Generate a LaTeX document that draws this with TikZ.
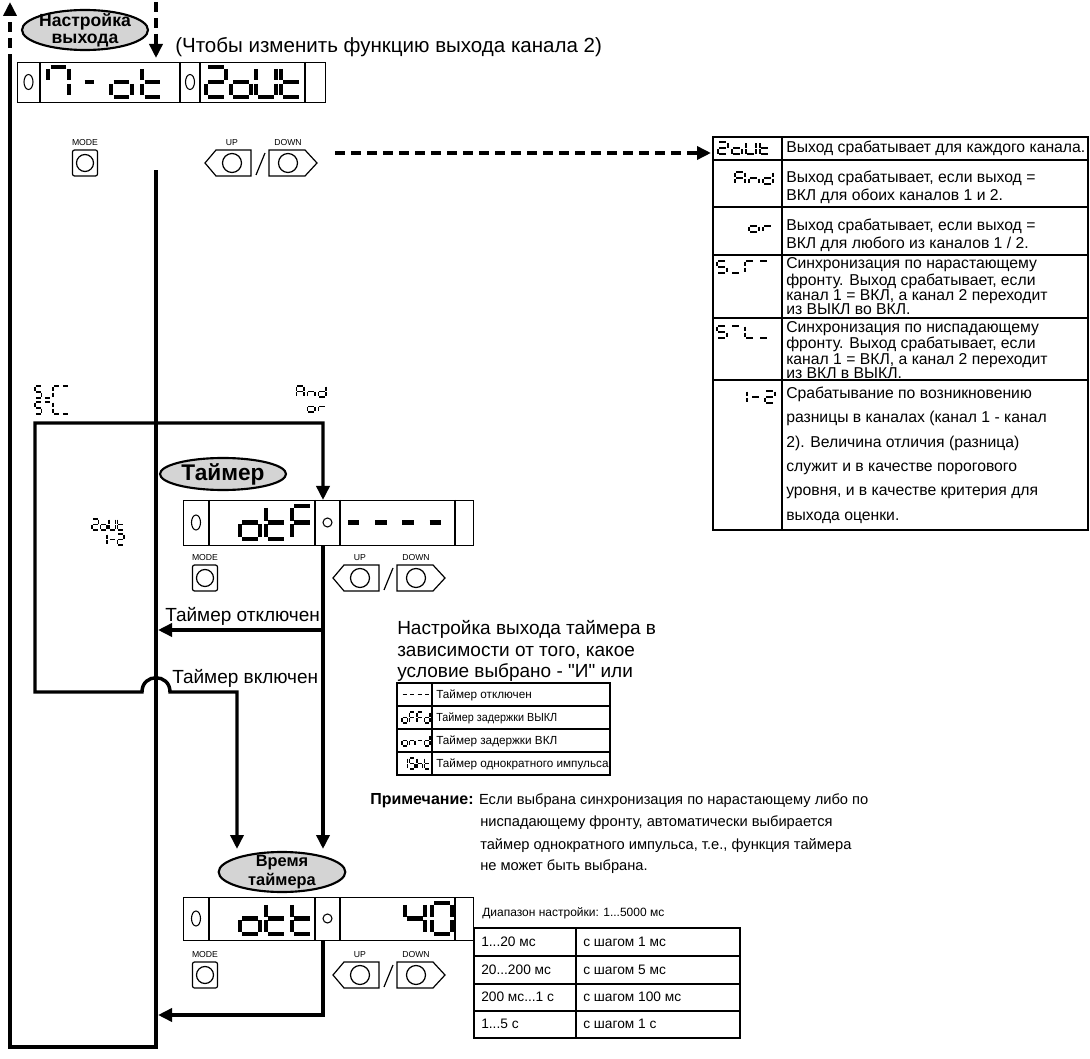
\documentclass[tikz,border=0pt]{standalone}
\usepackage{fontspec}
\setmainfont{Liberation Sans}
\newfontfamily\qf{Liberation Sans}
\usepackage{graphicx}
\usetikzlibrary{arrows.meta,shapes.geometric}
\definecolor{ovalgray}{RGB}{212,212,212}
\newcommand{\myfs}[2]{\fontsize{#1}{#2}\selectfont}
\def\sgw{3.4pt}
\def\segA{\draw[seg] (0.12,0)--(0.88,0);}
\def\segB{\draw[seg] (1,0.12)--(1,0.88);}
\def\segC{\draw[seg] (1,1.12)--(1,1.88);}
\def\segD{\draw[seg] (0.12,2)--(0.88,2);}
\def\segE{\draw[seg] (0,1.12)--(0,1.88);}
\def\segF{\draw[seg] (0,0.12)--(0,0.88);}
\def\segG{\draw[seg] (0.12,1)--(0.88,1);}
\def\glo{C,D,E,G}
\def\glt{D,E,F,G}
\def\glF{A,E,F,G}
\def\glA{A,B,C,E,F,G}
\def\gln{C,E,G}
\def\gld{B,C,D,E,G}
\def\glr{E,G}
\def\glS{A,F,G,C,D}
\def\glU{B,C,D,E,F}
\def\glL{D,E,F}
\def\glh{C,E,F,G}
\def\glm{G}
\def\glu{D}
\def\glv{A}
\def\glG{A,E,F}
\expandafter\def\csname gl2\endcsname{A,B,G,E,D}
\expandafter\def\csname gl4\endcsname{F,G,B,C}
\expandafter\def\csname gl0\endcsname{A,B,C,D,E,F}
\expandafter\def\csname gl1\endcsname{B,C}
\expandafter\def\csname gl7\endcsname{A,B,C,F}
\newcommand{\sgglyph}[5]{%
  \edef\sgsegs{\csname gl#5\endcsname}%
  \begin{scope}[shift={(#1,#2)},xscale=#3,yscale={#4/2}]
    \foreach \sgseg in \sgsegs {\csname seg\sgseg\endcsname}
  \end{scope}}
\newcommand{\sgword}[6]{%
  \foreach \sgch [count=\sgi from 0] in {#6} {%
    \pgfmathsetmacro\sgx{#1+\sgi*#5}%
    \sgglyph{\sgx}{#2}{#3}{#4}{\sgch}}}
% name, x, y, w, h, dividers
\newcommand{\mydisp}[6]{%
  \node[draw,thinl,inner sep=0pt,minimum width={#4*0.75pt},minimum height={#5*0.75pt},anchor=north west] (#1) at (#2,#3) {};
  \foreach \dv in {#6}{\draw[thinl] (\dv,#3) -- (\dv,#3+#5);}}
% prefix, mode center x, up left x, label y, button top
\newcommand{\myctrls}[5]{%
  \node[lbl] (#1m) at (#2,#4) {MODE};
  \node[lbl] (#1u) at (#3+27,#4) {UP};
  \node[lbl] (#1d) at (#3+83,#4) {DOWN};
  \draw[btn,rounded corners=1.5pt] (#2-12.5,#5) rectangle (#2+12.5,#5+26);
  \draw[btn] (#2,#5+13) circle [radius=8.5];
  \draw[btn] (#3,#5+13) -- (#3+11,#5) -- (#3+46,#5) -- (#3+46,#5+26) -- (#3+11,#5+26) -- cycle;
  \draw[btn] (#3+27,#5+13) circle [radius=9.5];
  \draw[btn] (#3+51,#5+25) -- (#3+60,#5+3);
  \draw[btn] (#3+64,#5) -- (#3+100,#5) -- (#3+112,#5+13) -- (#3+100,#5+26) -- (#3+64,#5+26) -- cycle;
  \draw[btn] (#3+83,#5+13) circle [radius=9.5];}
\tikzset{seg/.style={line width=\sgw,line cap=butt}}
\begin{document}
\begin{tikzpicture}[x=0.75pt,y=-0.75pt,
  >={Triangle[length=10.5pt,width=9.75pt]},
  thk/.style={line width=2.6pt},
  arr/.style={thk,->},
  dsharr/.style={thk,dash pattern=on 7.5pt off 4.5pt,->},
  oval/.style={ellipse,draw,fill=ovalgray,line width=1.6pt,inner sep=0pt},
  thinl/.style={line width=1pt},
  btn/.style={line width=0.9pt},
  lbl/.style={font=\myfs{6.5pt}{7pt},inner sep=0pt},
  txt/.style={font=\myfs{14.25pt}{17pt},inner sep=0pt,anchor=base west},
  nte/.style={font=\myfs{11pt}{14pt},inner sep=0pt,anchor=base west},
  stx/.style={font=\myfs{8.8pt}{10pt},inner sep=0pt,anchor=base west},
  rtx/.style={font=\myfs{10.3pt}{12pt},inner sep=0pt,anchor=base west}]
\useasboundingbox (0,0) rectangle (1090,1059);

% ---------- top part
\node[oval,minimum width=94.5pt,minimum height=30pt] (nastr) at (85,30) {};
\node[font=\bfseries\myfs{13.2pt}{13pt},align=center,inner sep=0pt] (nastrt) at (nastr.center) {Настройка\\выхода};
\node[txt,font=\myfs{15.4pt}{17pt}] (hdr) at (175,53) {(Чтобы изменить функцию выхода канала 2)};

\mydisp{d1}{17}{62}{308}{40}{40,180,200,305}
\draw[line width=0.8pt] (28.5,82) ellipse [x radius=4.5, y radius=7.5];
\draw[line width=0.8pt] (190,82) ellipse [x radius=4.5, y radius=7.5];
\def\sgw{3.6pt}
\sgword{48}{67}{21}{30}{1}{7}
\sgword{83}{67}{13}{30}{1}{m}
\sgword{111}{67}{21}{30}{31}{o,t}
\sgword{206}{67}{20}{30}{25}{2,o,U,t}
\myctrls{c1}{85}{205}{143}{150}

% ---------- right table
\draw[line width=1.1pt] (713,137) rectangle (1088,530);
\draw[thinl] (782,137) -- (782,530);
\foreach \yy in {160,207,255,318,380}{\draw[thinl] (713,\yy) -- (1088,\yy);}
\node[font=\myfs{11.8pt}{13pt},inner sep=0pt,anchor=west,align=left] (r1) at (786,148.5) {Выход срабатывает для каждого канала.};
\node[font=\myfs{11.8pt}{13.5pt},inner sep=0pt,anchor=west,align=left] (r2) at (786,187) {Выход срабатывает, если выход =\\ВКЛ для обоих каналов 1 и 2.};
\node[font=\myfs{11.8pt}{13.5pt},inner sep=0pt,anchor=west,align=left] (r3) at (786,235) {Выход срабатывает, если выход =\\ВКЛ для любого из каналов 1 / 2.};
\node[font=\myfs{11.8pt}{10.6pt},inner sep=0pt,anchor=west,align=left] (r4) at (786,286.5) {Синхронизация по нарастающему\\фронту. Выход срабатывает, если\\канал 1 = ВКЛ, а канал 2 переходит\\из ВЫКЛ во ВКЛ.};
\node[font=\myfs{11.8pt}{10.6pt},inner sep=0pt,anchor=west,align=left] (r5) at (786,350) {Синхронизация по ниспадающему\\фронту. Выход срабатывает, если\\канал 1 = ВКЛ, а канал 2 переходит\\из ВКЛ в ВЫКЛ.};
\node[font=\myfs{11.8pt}{18.3pt},inner sep=0pt,anchor=west,align=left] (r6) at (786,455) {Срабатывание по возникновению\\разницы в каналах (канал 1 - канал\\2). Величина отличия (разница)\\служит и в качестве порогового\\уровня, и в качестве критерия для\\выхода оценки.};
\def\sgw{1.5pt}
\sgword{718}{142.5}{9.5}{12}{14}{2,o,U,t}
\sgword{735}{172}{9.5}{12}{14}{A,n,d}
\sgword{749}{220}{9.5}{12}{14}{o,r}
\sgword{717}{261}{9.5}{12}{14}{S,u,G,v}
\sgword{717}{326}{9.5}{12}{14}{S,v,L,u}
\sgword{737}{391}{9.5}{12}{14}{1,m,2}

% ---------- left labels
\def\sgw{1.4pt}
\sgword{35}{386}{6.5}{12}{9}{S,u,G,v}
\sgword{35}{402}{6.5}{12}{9}{S,v,L,u}
\sgword{296.5}{386}{7.5}{11}{11}{A,n,d}
\sgword{307.5}{401}{7.5}{11}{11}{o,r}
\sgword{92}{519}{6.5}{11}{8.5}{2,o,U,t}
\sgword{100.5}{534}{6.5}{11}{8.5}{1,m,2}

% ---------- timer
\node[oval,minimum width=94.5pt,minimum height=24pt] (taimer) at (223,474) {};
\node[font=\bfseries\myfs{17pt}{18pt},inner sep=0pt] (taimert) at (taimer.center) {Таймер};
\mydisp{d2}{183}{500}{290}{45}{209,315,340,455}
\draw[line width=0.8pt] (196,522.5) ellipse [x radius=4.5, y radius=7.5];
\draw[line width=0.8pt] (327.5,522.5) circle [radius=4.5];
\def\sgw{3.6pt}
\sgword{240}{506}{20}{33}{26}{o,t,F}
\sgword{346}{506}{15}{33}{27.3}{m,m,m,m}
\myctrls{c2}{205}{333}{558}{565}

\node[txt] (off) at (165,621) {Таймер отключен};
\node[txt] (on) at (172,683) {Таймер включен};
\node[txt] (m1) at (397,634) {Настройка выхода таймера в};
\node[txt] (m2) at (397,656) {зависимости от того, какое};
\node[txt] (m3) at (397,677) {условие выбрано - {\qf"}И{\qf"} или};

% ---------- timer table
\draw[thinl] (397,683) rectangle (610,775);
\draw[thinl] (432,683) -- (432,775);
\foreach \yy in {706,729,752}{\draw[thinl] (397,\yy) -- (610,\yy);}
\node[stx] (t1) at (436,698) {Таймер отключен};
\node[stx] (t2) at (436,721) {\scalebox{0.92}[1]{Таймер задержки ВЫКЛ}};
\node[stx] (t3) at (436,744) {Таймер задержки ВКЛ};
\node[stx] (t4) at (436,767) {Таймер однократного импульса};
\def\sgw{1.15pt}
\sgword{402}{689}{5.5}{11}{7.5}{m,m,m,m}
\sgword{402}{712}{5.5}{11}{7.5}{o,F,F,d}
\sgword{402}{735}{5.5}{11}{7.5}{o,n,m,d}
\sgword{402}{758}{5.5}{11}{7.5}{1,S,h,t}

% ---------- note
\node[nte] (n1) at (370,804.5) {{\bfseries\fontsize{12pt}{14pt}\selectfont Примечание:} Если выбрана синхронизация по нарастающему либо по};
\node[nte] (n2) at (480,826.5) {ниспадающему фронту, автоматически выбирается};
\node[nte] (n3) at (480,849.5) {таймер однократного импульса, т.е., функция таймера};
\node[nte] (n4) at (480,870.5) {не может быть выбрана.};

% ---------- timer time
\node[oval,minimum width=95pt,minimum height=30pt] (vremya) at (282,872) {};
\node[font=\bfseries\myfs{12.3pt}{14.5pt},align=center,inner sep=0pt] (vremyat) at (vremya.center) {Время\\таймера};
\mydisp{d3}{183}{897}{290}{43}{209,315,340,455}
\draw[line width=0.8pt] (196,918.5) ellipse [x radius=4.5, y radius=7.5];
\draw[line width=0.8pt] (327.5,918.5) circle [radius=4.5];
\def\sgw{3.6pt}
\sgword{240}{903}{20}{31}{26}{o,t,t}
\sgword{405}{903}{20}{31}{27}{4,0}
\myctrls{c3}{205}{333}{955}{962}

% ---------- range table
\node[font=\myfs{9pt}{10pt},inner sep=0pt,anchor=base west] (rng) at (482,916) {Диапазон настройки: 1...5000 мс};
\draw[thinl] (474,928) rectangle (740,1038);
\draw[thinl] (576,928) -- (576,1038);
\foreach \yy in {956,984,1011}{\draw[thinl] (474,\yy) -- (740,\yy);}
\node[rtx] (g1) at (481,946) {1...20 мс};
\node[rtx] (h1) at (583,946) {с шагом 1 мс};
\node[rtx] (g2) at (481,974) {20...200 мс};
\node[rtx] (h2) at (583,974) {с шагом 5 мс};
\node[rtx] (g3) at (481,1001.5) {200 мс...1 с};
\node[rtx] (h3) at (583,1001.5) {с шагом 100 мс};
\node[rtx] (g4) at (481,1028.5) {1...5 с};
\node[rtx] (h4) at (583,1028.5) {с шагом 1 с};

% ---------- connectors
\coordinate (Ltop) at (10,2);
\coordinate (Lmid) at (10,64);
\coordinate (Lbot) at (10,1047);
\coordinate (Mbot) at (156,1047);
\coordinate (Mtop) at (156,170);
\draw[dsharr] (Lmid) -- (Ltop);
\draw[thk] (Lmid) -- (Lbot) -- (Mbot) -- (Mtop);
\coordinate (Dtop) at (156,2);
\coordinate (Dtip) at (156,58);
\draw[dsharr] (Dtop) -- (Dtip);
\coordinate (Hs) at (335,153);
\coordinate (Ht) at (711,153);
\draw[dsharr] (Hs) -- (Ht);

\coordinate (F1) at (35,692);
\coordinate (F2) at (35,423);
\coordinate (F3) at (323,423);
\coordinate (B1) at (142,692);
\coordinate (B2) at (170,692);
\coordinate (B3) at (237,692);
\coordinate (B4) at (237,849);
\draw[thk,<->] (F3 |- d2.north) -- (F3) -- (F2) -- (F1) -- (B1) .. controls (142,673) and (170,673) .. (B2) -- (B3) -- (B4);

\coordinate (R2) at (323,849);
\coordinate (R3) at (323,630);
\coordinate (R3t) at (158,630);
\draw[arr] (F3 |- d2.south) -- (R2);
\draw[arr] (R3) -- (R3t);
\coordinate (S2) at (323,1015);
\coordinate (S3) at (158,1015);
\draw[arr] (F3 |- d3.south) -- (S2) -- (S3);
\end{tikzpicture}
\end{document}
